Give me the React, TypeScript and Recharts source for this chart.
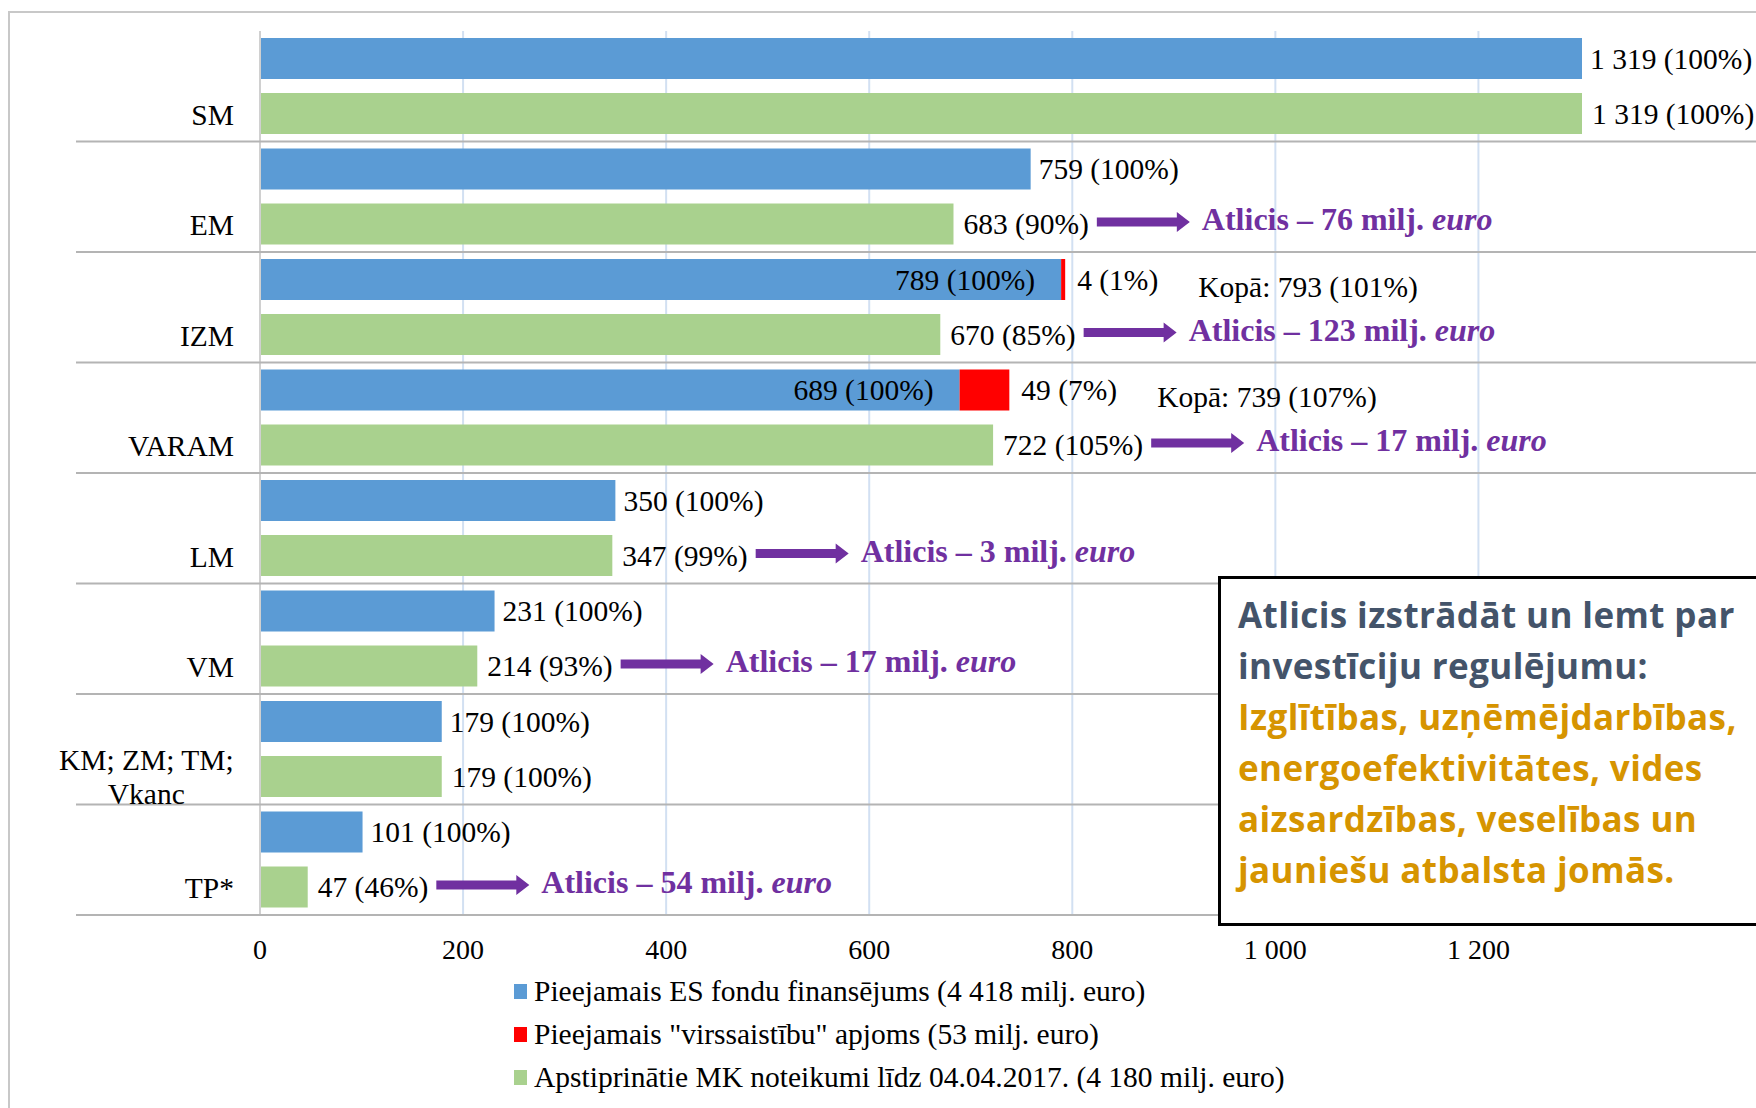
import React from "react";
import { BarChart, Bar, XAxis, YAxis, CartesianGrid, LabelList } from "recharts";

// ministries (top to bottom), the last one wraps on two lines
const categories = ["SM", "EM", "IZM", "VARAM", "LM", "VM", "KM; ZM; TM;\nVkanc", "TP*"];
// milj. euro
const available = [1319, 759, 789, 689, 350, 231, 179, 101];
const availablePct = [100, 100, 100, 100, 100, 100, 100, 100];
const overCommit = [0, 0, 4, 49, 0, 0, 0, 0];
const overCommitPct = [0, 0, 1, 7, 0, 0, 0, 0];
const approved = [1319, 683, 670, 722, 347, 214, 179, 47];
const approvedPct = [100, 90, 85, 105, 99, 93, 100, 46];
const totalWithOver = [0, 0, 793, 739, 0, 0, 0, 0];
const totalPct = [0, 0, 101, 107, 0, 0, 0, 0];
const remaining = [0, 76, 123, 17, 3, 17, 0, 54];
const xTicks = [0, 200, 400, 600, 800, 1000, 1200];

const legendNames = [
  "Pieejamais ES fondu finansējums (4 418 milj. euro)",
  'Pieejamais "virssaistību" apjoms (53 milj. euro)',
  "Apstiprinātie MK noteikumi līdz 04.04.2017. (4 180 milj. euro)",
];
const noteLines = [
  "Atlicis izstrādāt un lemt par",
  "investīciju regulējumu:",
  "Izglītības, uzņēmējdarbības,",
  "energoefektivitātes, vides",
  "aizsardzības, veselības un",
  "jauniešu atbalsta jomās.",
];

const BLUE = "#5b9bd5";
const RED = "#ff0000";
const GREEN = "#a9d18e";
const PURPLE = "#7030a0";
const SERIF = "'Liberation Serif', 'Times New Roman', serif";

const W = 1756;
const H = 1108;
const PLOT_LEFT = 260;
const PLOT_TOP = 31;
const PLOT_BOTTOM = 915;
const PLOT_RIGHT = 1582;
const X_MAX = 1302;
const XAXIS_H = 60;
const BAND = (PLOT_BOTTOM - PLOT_TOP) / categories.length;
const FS = 29.5;

const data = categories.map((name, i) => ({
  name,
  available: available[i],
  over: overCommit[i],
  approved: approved[i],
}));

const fmt = (n: number) => String(n).replace(/\B(?=(\d{3})+(?!\d))/g, " ");

let ctx: CanvasRenderingContext2D | null = null;
function measure(s: string, font: string) {
  if (!ctx) ctx = document.createElement("canvas").getContext("2d");
  if (!ctx) return s.length * 14;
  ctx.font = font;
  return ctx.measureText(s).width;
}
const LABEL_FONT = `${FS}px ${SERIF}`;

// label geometry + which category row it sits in (bars of 0 get dropped, so index is unreliable)
function box(props: any) {
  const vb = props.viewBox || props;
  const b = { x: Number(vb.x), y: Number(vb.y), width: Number(vb.width), height: Number(vb.height) };
  const i = Math.min(categories.length - 1, Math.max(0, Math.floor((b.y + b.height / 2 - PLOT_TOP) / BAND)));
  return { ...b, i, cy: b.y + b.height / 2 };
}

// only the tick values get a grid line, not the end of the domain
function gridX(args: any) {
  const scale = args?.xAxis?.scale;
  return xTicks.map((t) =>
    typeof scale === "function" ? scale(t) : PLOT_LEFT + (t / X_MAX) * (PLOT_RIGHT - PLOT_LEFT)
  );
}

function CategoryTick(props: any) {
  const { y, payload } = props;
  const lines = String(payload.value).split("\n");
  const right = PLOT_LEFT - 26;
  const mid = y + 28;
  const sep = y + BAND / 2;
  let label;
  if (lines.length === 1) {
    label = (
      <text x={right} y={mid} dy="0.35em" textAnchor="end" fontFamily={SERIF} fontSize={FS} fill="#000">
        {lines[0]}
      </text>
    );
  } else {
    const w = Math.max(...lines.map((l) => measure(l, LABEL_FONT)));
    const cx = right - w / 2;
    const start = mid - ((lines.length - 1) * 34) / 2 - 1;
    label = (
      <text textAnchor="middle" fontFamily={SERIF} fontSize={FS} fill="#000">
        {lines.map((l, i) => (
          <tspan key={i} x={cx} y={start + i * 34} dy="0.35em">
            {l}
          </tspan>
        ))}
      </text>
    );
  }
  return (
    <g>
      <line x1={76} x2={W} y1={sep} y2={sep} stroke="#b4b4b4" strokeWidth={2} />
      {label}
    </g>
  );
}

function ValueTick(props: any) {
  const { x, payload } = props;
  return (
    <text x={x} y={PLOT_BOTTOM + 34} dy="0.35em" textAnchor="middle" fontFamily={SERIF} fontSize={28} fill="#000">
      {fmt(payload.value)}
    </text>
  );
}

function BlueLabel(props: any) {
  const { x, width, i, cy } = box(props);
  const end = Math.min(x + width, PLOT_RIGHT);
  const text = `${fmt(available[i])} (${availablePct[i]}%)`;
  if (overCommit[i] > 0) {
    return (
      <text x={end - 26} y={cy} dy="0.35em" textAnchor="end" fontFamily={SERIF} fontSize={FS} fill="#000">
        {text}
      </text>
    );
  }
  return (
    <text x={end + 8} y={cy} dy="0.35em" fontFamily={SERIF} fontSize={FS} fill="#000">
      {text}
    </text>
  );
}

function RedLabel(props: any) {
  const { x, width, i, cy } = box(props);
  if (!overCommit[i]) return null;
  const text = `${overCommit[i]} (${overCommitPct[i]}%)`;
  const x0 = x + width + 12;
  const x1 = x0 + measure(text, LABEL_FONT) + 40;
  return (
    <g>
      <text x={x0} y={cy} dy="0.35em" fontFamily={SERIF} fontSize={FS} fill="#000">
        {text}
      </text>
      <text x={x1} y={cy + 7} dy="0.35em" fontFamily={SERIF} fontSize={FS} fill="#000">
        {`Kopā: ${totalWithOver[i]} (${totalPct[i]}%)`}
      </text>
    </g>
  );
}

function GreenLabel(props: any) {
  const { x, width, i, cy } = box(props);
  const end = Math.min(x + width, PLOT_RIGHT);
  const text = `${fmt(approved[i])} (${approvedPct[i]}%)`;
  const x0 = end + 10;
  const labelEl = (
    <text x={x0} y={cy} dy="0.35em" fontFamily={SERIF} fontSize={FS} fill="#000">
      {text}
    </text>
  );
  if (!remaining[i]) return labelEl;
  const a0 = x0 + measure(text, LABEL_FONT) + 8;
  const len = 93;
  const ay = cy - 2;
  const head = 13;
  const arrow = `M${a0},${ay - 4.5} L${a0 + len - head},${ay - 4.5} L${a0 + len - head},${ay - 10} L${a0 + len},${ay} L${a0 + len - head},${ay + 10} L${a0 + len - head},${ay + 4.5} L${a0},${ay + 4.5} Z`;
  return (
    <g>
      {labelEl}
      <path d={arrow} fill={PURPLE} />
      <text x={a0 + len + 12} y={cy - 5} dy="0.35em" fontFamily={SERIF} fontSize={32} fontWeight="bold" fill={PURPLE}>
        {`Atlicis – ${remaining[i]} milj. `}
        <tspan fontStyle="italic">euro</tspan>
      </text>
    </g>
  );
}

export default function App() {
  const legendColors = [BLUE, RED, GREEN];
  return (
    <div
      style={{
        position: "absolute",
        left: 0,
        top: 0,
        width: W,
        height: H,
        overflow: "hidden",
        background: "#fff",
      }}
    >
      <div
        style={{
          position: "absolute",
          left: 8,
          top: 11,
          width: 2000,
          height: 2000,
          borderLeft: "2px solid #c8c8c8",
          borderTop: "2px solid #c8c8c8",
        }}
      />
      <div style={{ position: "absolute", left: 0, top: 0 }}>
        <BarChart
          width={W}
          height={H}
          data={data}
          layout="vertical"
          barSize={41}
          barGap={14}
          margin={{ top: PLOT_TOP, right: W - PLOT_RIGHT, bottom: H - PLOT_BOTTOM - XAXIS_H, left: 0 }}
        >
          <CartesianGrid
            horizontal={false}
            vertical
            verticalCoordinatesGenerator={gridX}
            stroke="#d2e0f2"
            strokeWidth={2}
          />
          <XAxis
            type="number"
            domain={[0, X_MAX]}
            ticks={xTicks}
            allowDataOverflow
            interval={0}
            height={XAXIS_H}
            axisLine={false}
            tickLine={false}
            tick={<ValueTick />}
          />
          <YAxis
            type="category"
            dataKey="name"
            width={PLOT_LEFT}
            interval={0}
            tickLine={false}
            axisLine={{ stroke: "#d0d0d0", strokeWidth: 2 }}
            tick={<CategoryTick />}
          />
          <Bar dataKey="available" stackId="a" fill={BLUE} isAnimationActive={false}>
            <LabelList dataKey="available" content={<BlueLabel />} />
          </Bar>
          <Bar dataKey="over" stackId="a" fill={RED} isAnimationActive={false}>
            <LabelList dataKey="over" content={<RedLabel />} />
          </Bar>
          <Bar dataKey="approved" fill={GREEN} isAnimationActive={false}>
            <LabelList dataKey="approved" content={<GreenLabel />} />
          </Bar>
        </BarChart>
      </div>
      <div style={{ position: "absolute", left: 514, top: 970 }}>
        {legendNames.map((name, i) => (
          <div
            key={name}
            style={{ display: "flex", alignItems: "center", height: 43, fontFamily: SERIF, fontSize: FS, color: "#000" }}
          >
            <span style={{ display: "inline-block", width: 13, height: 15, background: legendColors[i], marginRight: 7 }} />
            <span>{name}</span>
          </div>
        ))}
      </div>
      <div
        style={{
          position: "absolute",
          left: 1218,
          top: 576,
          width: 600,
          height: 334,
          border: "3px solid #000",
          background: "#fff",
          boxSizing: "content-box",
          paddingTop: 10,
          paddingLeft: 17,
          fontFamily: "'Open Sans', Lato, sans-serif",
          fontWeight: 700,
          fontSize: 35,
          letterSpacing: 0.4,
          lineHeight: "51px",
        }}
      >
        {noteLines.map((l, i) => (
          <div key={i} style={{ color: i < 2 ? "#44546a" : "#d69400", whiteSpace: "nowrap" }}>
            {l}
          </div>
        ))}
      </div>
    </div>
  );
}
